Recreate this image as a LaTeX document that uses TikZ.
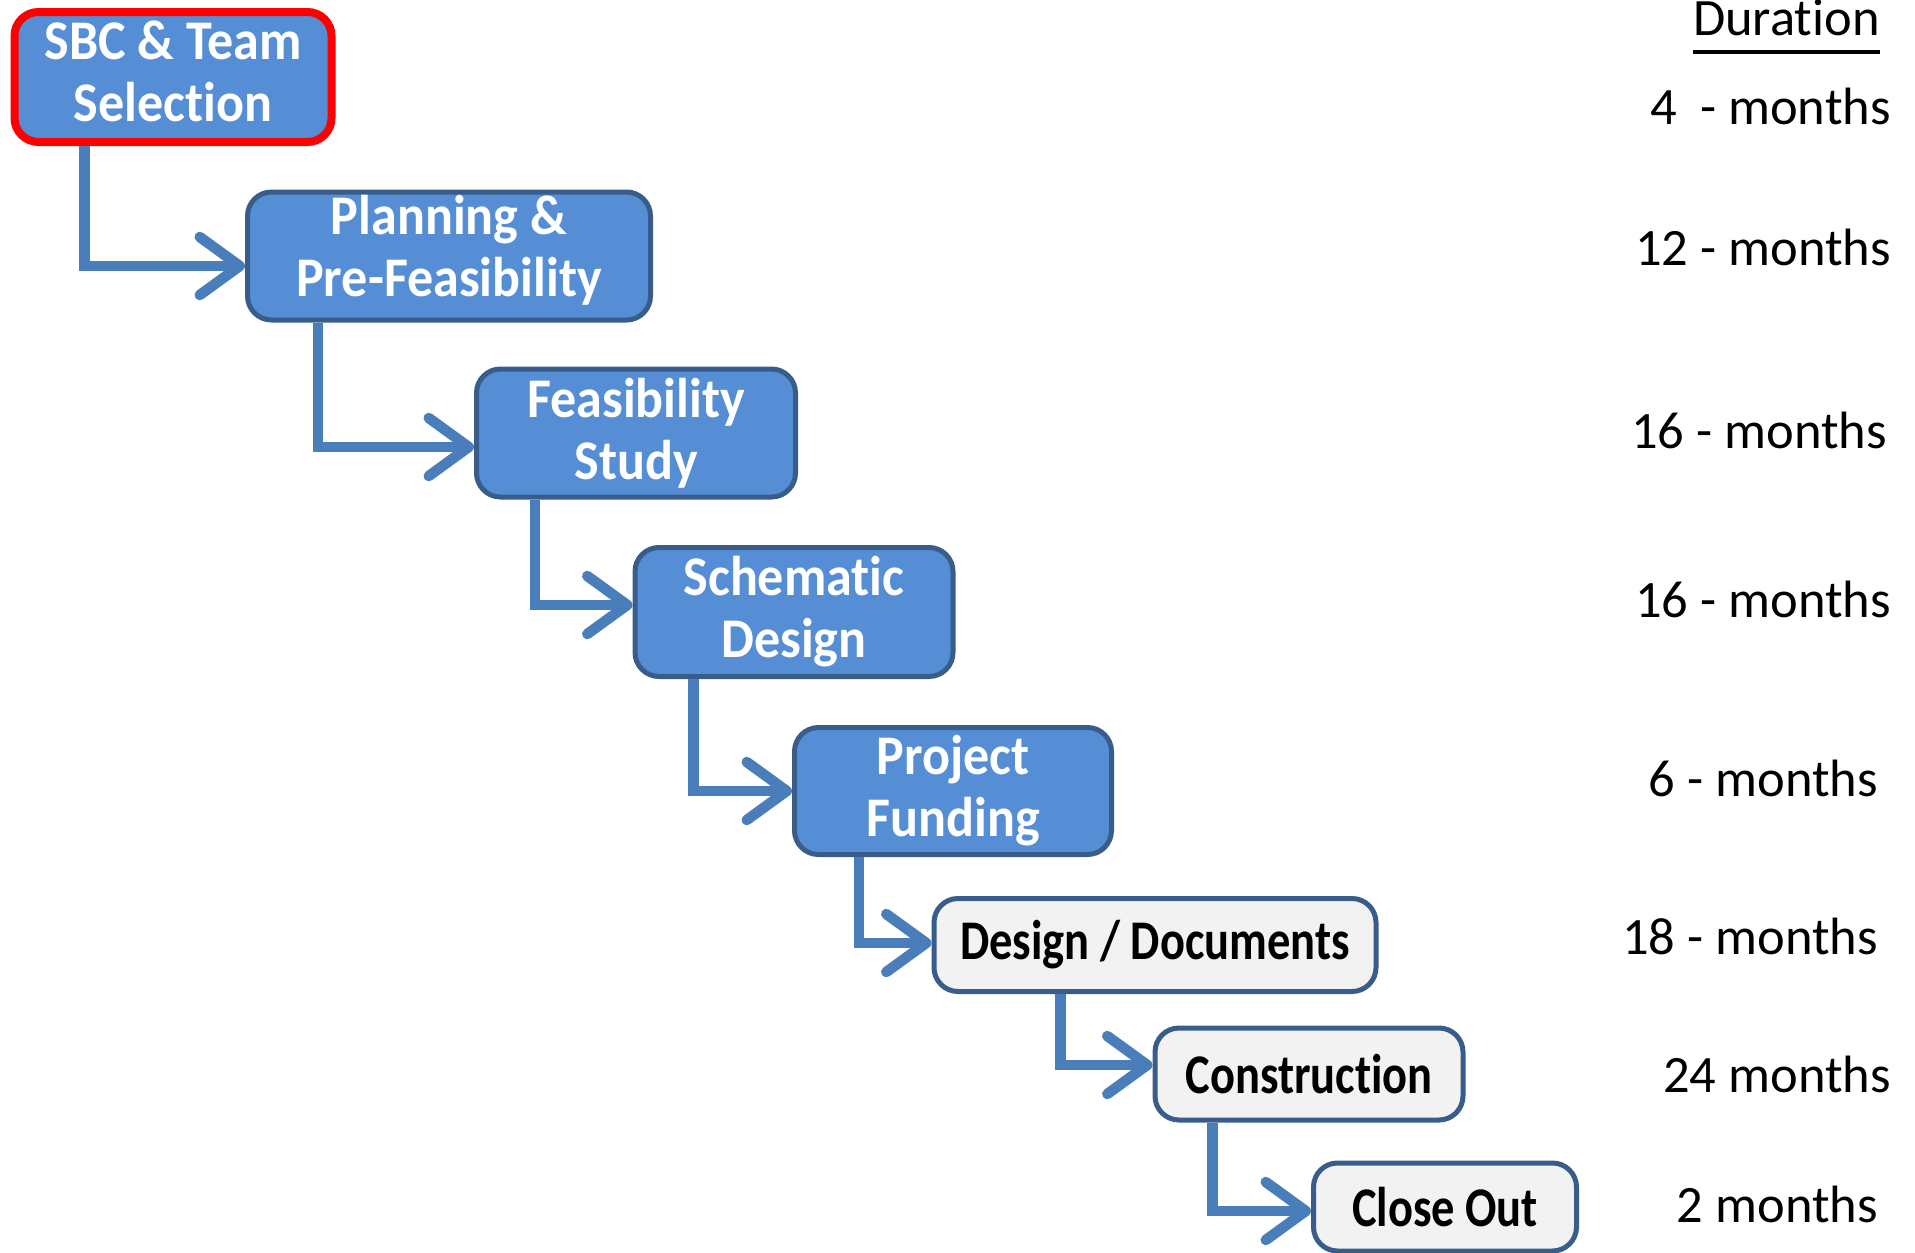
\documentclass[tikz,border=0pt]{standalone}
\usepackage{fontspec}
\setmainfont{Carlito}[Ligatures={NoCommon}]
\newfontfamily\boxfont[FakeStretch=0.93, Ligatures={NoCommon}]{Carlito}
\newfontfamily\grayfont[FakeStretch=0.83, Ligatures={NoCommon}]{Carlito}
\usetikzlibrary{arrows.meta}
\definecolor{boxblue}{HTML}{558ED5}
\definecolor{edgeblue}{HTML}{385D8A}
\definecolor{connblue}{HTML}{4A7EBB}
\definecolor{boxgray}{HTML}{F2F2F2}
\definecolor{hired}{HTML}{FF0000}
\tikzset{
  stage/.style={draw=edgeblue, line width=5pt, rounded corners=24pt, fill=boxblue,
    text=white, font=\boxfont\bfseries\fontsize{56}{62}\selectfont, align=center,
    inner sep=0pt, anchor=center},
  graystage/.style={stage, fill=boxgray, text=black, font=\grayfont\bfseries\fontsize{56}{62}\selectfont},
  conn/.style={draw=connblue, line width=10.5pt,
    -{Straight Barb[round, length=40pt, width=58pt]}},
  dur/.style={font=\fontsize{52.5}{60}\selectfont, anchor=base east, inner sep=0pt}
}
\begin{document}
\begin{tikzpicture}[x=1pt, y=-1pt]
\useasboundingbox (0,0) rectangle (1915,1253);
% stages
\node[stage, draw=hired, line width=8pt, minimum width=317pt, minimum height=130pt, text depth=11pt] (s1) at (173,77) {SBC \& Team\\Selection};
\node[stage, minimum width=403pt, minimum height=128pt, text depth=20pt] (s2) at (449,256) {Planning \&\\Pre-Feasibility};
\node[stage, minimum width=319pt, minimum height=128pt] (s3) at (636,433) {Feasibility\\Study};
\node[stage, minimum width=318pt, minimum height=129pt] (s4) at (794,612) {Schematic\\Design};
\node[stage, minimum width=317pt, minimum height=127pt] (s5) at (953,791) {Project\\Funding};
\node[graystage, minimum width=442pt, minimum height=93pt] (s6) at (1155,945) {Design / Documents};
\node[graystage, minimum width=308pt, minimum height=92pt] (s7) at (1309,1074) {Construction};
\node[graystage, minimum width=263pt, minimum height=88pt] (s8) at (1445,1207) {Close Out};
% connectors
\draw[conn] ([xshift=74pt]s1.south west) |- ([yshift=-10pt]s2.west);
\draw[conn] ([xshift=73pt]s2.south west) |- ([yshift=-14pt]s3.west);
\draw[conn] ([xshift=61pt]s3.south west) |- ([yshift=7pt]s4.west);
\draw[conn] ([xshift=61pt]s4.south west) |- (s5.west);
\draw[conn] ([xshift=67pt]s5.south west) |- ([yshift=2pt]s6.west);
\draw[conn] ([xshift=129pt]s6.south west) |- ([yshift=9pt]s7.west);
\draw[conn] ([xshift=60pt]s7.south west) |- ([yshift=-4pt]s8.west);
% durations
\node[dur] (dh) at (1880,35) {Duration};
\draw[line width=3.4pt] (dh.base west |- 0,52) coordinate (ul1) -- (dh.base east |- 0,52) coordinate (ul2);
\node[dur] (d1) at (1891,124) {4\ \ - months};
\node[dur] (d2) at (1891,265) {12 - months};
\node[dur] (d3) at (1887,448) {16 - months};
\node[dur] (d4) at (1891,617) {16 - months};
\node[dur] (d5) at (1878,796) {6 - months};
\node[dur] (d6) at (1878,954) {18 - months};
\node[dur] (d7) at (1891,1092) {24 months};
\node[dur] (d8) at (1878,1222) {2 months};
\end{tikzpicture}
\end{document}
